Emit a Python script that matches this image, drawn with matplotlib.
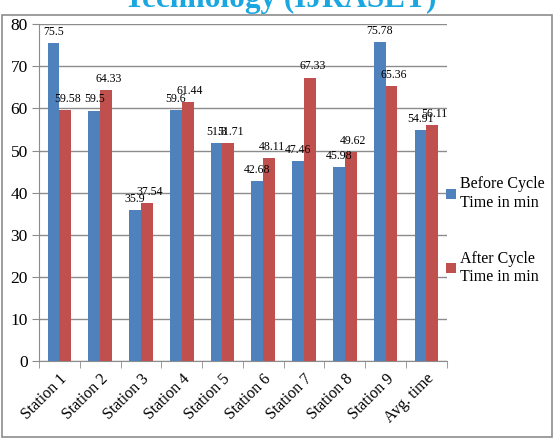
import numpy as np
import matplotlib
matplotlib.use('Agg')
import matplotlib.pyplot as plt
from matplotlib.patches import Rectangle

STATIONS = [f'Station {i}' for i in range(1, 10)] + ['Avg. time']
BEFORE = [75.5, 59.5, 35.9, 59.6, 51.8, 42.68, 47.46, 45.98, 75.78, 54.91]
AFTER = [59.58, 64.33, 37.54, 61.44, 51.71, 48.11, 67.33, 49.62, 65.36, 56.11]
BEFORE_LBL = ['75.5', '59.5', '35.9', '59.6', '51.8', '42.68', '47.46', '45.98', '75.78', '54.91']
AFTER_LBL = ['59.58', '64.33', '37.54', '61.44', '51.71', '48.11', '67.33', '49.62', '65.36', '56.11']

plt.rcParams.update({'font.family': 'Liberation Serif', 'font.size': 10})

fig = plt.figure(figsize=(5.54, 4.4), dpi=100)
ax = fig.add_axes([0.0704, 0.1795, 0.736, 0.7655])

# outer chart frame
fig.patches.append(Rectangle((0.004, 0.007), 0.993, 0.959, transform=fig.transFigure,
                             fill=False, edgecolor='#8c8c8c', lw=1.2))

# cut-off title above the frame
fig.text(0.505, 0.983, 'Technology (IJRASET)', ha='center', va='baseline',
         fontsize=22.5, fontweight='bold', color='#1aa7e0')

x = np.arange(len(STATIONS))
w = 0.29
b1 = ax.bar(x - w / 2, BEFORE, w, color='#4F81BD', label='Before Cycle\nTime in min', zorder=3)
b2 = ax.bar(x + w / 2, AFTER, w, color='#C0504D', label='After Cycle\nTime in min', zorder=3)

for xi, v, t in zip(x, BEFORE, BEFORE_LBL):
    ax.text(xi - w / 2, v + 1.2, t, ha='center', va='bottom', fontsize=8.5, zorder=4)
for xi, v, t in zip(x, AFTER, AFTER_LBL):
    ax.text(xi + w / 2 + 0.06, v + 1.2, t, ha='center', va='bottom', fontsize=8.5, zorder=4)

ax.set_ylim(0, 80)
ax.set_yticks(range(0, 81, 10))
ax.set_xlim(-0.5, len(STATIONS) - 0.5)
ax.yaxis.grid(True, color='#8c8c8c', lw=1)
ax.set_axisbelow(True)
for s in ['top', 'right']:
    ax.spines[s].set_visible(False)
for s in ['left', 'bottom']:
    ax.spines[s].set_color('#8c8c8c')
ax.tick_params(axis='y', length=5, color='#8c8c8c', labelsize=12.5, pad=3)

# category labels centred, ticks between groups
ax.set_xticks(x)
ax.set_xticklabels(STATIONS, rotation=45, ha='right', rotation_mode='anchor', fontsize=11.5)
ax.tick_params(axis='x', length=0, pad=7)
ax.set_xticks(np.arange(-0.5, len(STATIONS), 1), minor=True)
ax.tick_params(axis='x', which='minor', length=5, color='#8c8c8c')

fig.legend(handles=[b1, b2], loc='center left', bbox_to_anchor=(0.805, 0.476),
           frameon=False, fontsize=11.5, handlelength=0.6, handleheight=0.6,
           handletextpad=0.25, labelspacing=2.5, borderaxespad=0, borderpad=0)

plt.savefig('out.png', dpi=100)
plt.close()
